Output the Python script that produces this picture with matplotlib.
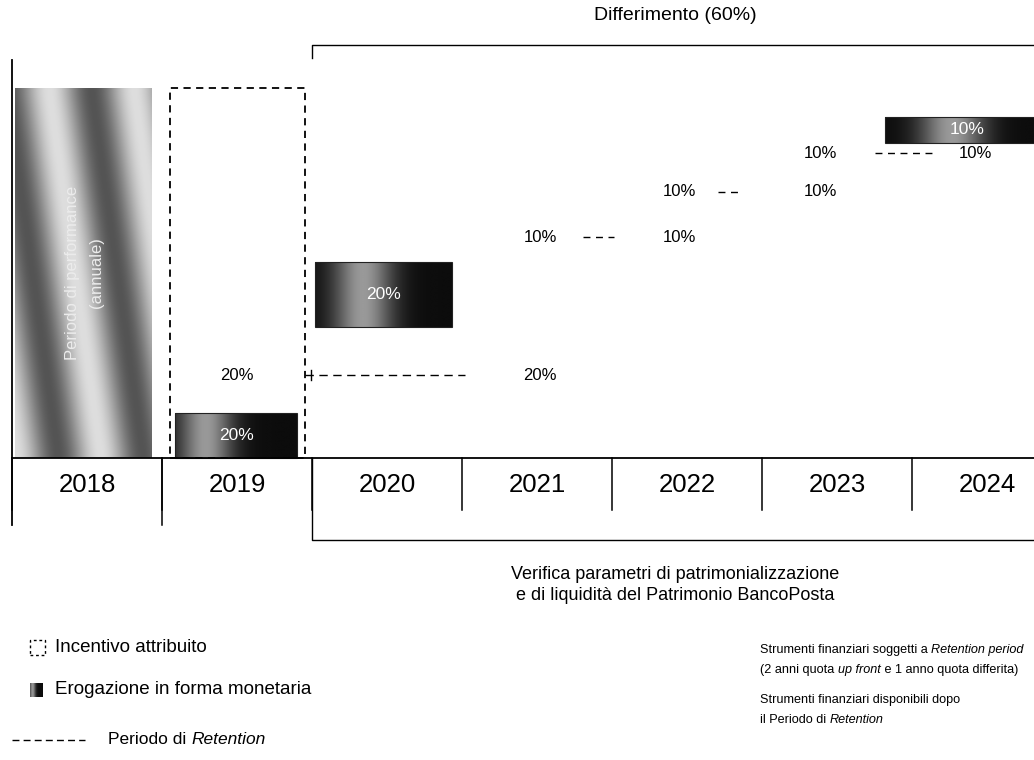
"""
Schema di pagamento dell'incentivo (MBO BancoPosta) - ricostruzione
"""

import matplotlib.pyplot as plt
import numpy as np
from matplotlib.patches import Rectangle


# data
years = [2018, 2019, 2020, 2021, 2022, 2023, 2024]
cash_years = [2019, 2020, 2024]
cash_pct = [20, 20, 10]
ret_from = [2019, 2021, 2022, 2023]
ret_to = [2021, 2022, 2023, 2024]
ret_pct = [20, 10, 10, 10]
deferral_label = "Differimento (60%)"
check_label = "Verifica parametri di patrimonializzazione\ne di liquidità del Patrimonio BancoPosta"

plt.rcParams["font.family"] = ["Liberation Sans", "DejaVu Sans"]

fig = plt.figure(figsize=(10.34, 7.6), dpi=100)
ax = fig.add_axes([0, 0, 1, 1])
# x: one unit per year column, y: drawing units above the year row
ax.set_xlim(-0.08, 6.813)
ax.set_ylim(-302, 458)
ax.set_axis_off()


def col(year):
    return years.index(year)


def shade(x0, x1, y0, y1, kind):
    nx, ny = 120, 40
    xx, yy = np.meshgrid(np.linspace(0, 1, nx), np.linspace(0, 1, ny))
    if kind == "stripe":
        z = 0.6 + 0.27 * np.cos(2 * np.pi * (xx * 1.6 + yy * 0.6))
    else:
        z = 0.05 + 0.55 * np.exp(-((xx - kind) / 0.22) ** 2)
    ax.imshow(z, extent=(x0, x1, y0, y1), origin="lower", cmap="gray",
              vmin=0, vmax=1, aspect="auto", interpolation="bicubic", zorder=1)


# 2018: performance period bar
shade(0.02, 0.93, 0, 370, "stripe")
ax.text(0.4, 185, "Periodo di performance", rotation=90, ha="center", va="center",
        color="#ececec", fontsize=12, zorder=3)
ax.text(0.56, 185, "(annuale)", rotation=90, ha="center", va="center",
        color="#ececec", fontsize=12, zorder=3)

# 2019: awarded incentive (dashed box)
ax.add_patch(Rectangle((1.053, 0), 0.9, 370, fill=False, ls=(0, (4, 3)), lw=1.3,
                       ec="black", zorder=2))

# cash payments
cash_boxes = {2019: (1.087, 1.9, 0, 45, 0.25), 2020: (2.02, 2.93, 131, 196, 0.35),
              2024: (5.82, 6.813, 315, 341, 0.45)}
for yr, pct in zip(cash_years, cash_pct):
    x0, x1, y0, y1, hl = cash_boxes[yr]
    shade(x0, x1, y0, y1, hl)
    ax.add_patch(Rectangle((x0, y0), x1 - x0, y1 - y0, fill=False, ec="#222222", lw=0.8, zorder=2))
    ax.text((x0 + x1) / 2 + (0.05 if yr == 2024 else 0), (y0 + y1) / 2, f"{pct}%",
            ha="center", va="center", color="white", fontsize=12.5, zorder=3)

# retention steps: text offsets inside the columns and dash extents
row_y = [83, 221, 266, 305]
text_off = {2019: 0.5, 2021: 0.52, 2022: 0.45, 2023: 0.39, 2024: 0.42}
dash_span = [(1.953, 3.02), (3.807, 4.013), (4.707, 4.867), (5.753, 6.153)]
dash_style = [(0, (6, 4)), (0, (5, 4)), (0, (5, 4)), (0, (5, 4))]
for i, (a, b, pct, yv) in enumerate(zip(ret_from, ret_to, ret_pct, row_y)):
    xa = col(a) + text_off[a] if i > 0 else col(a) + 0.5
    xb = col(b) + text_off[b] if i > 0 else col(b) + 0.52
    if i == 2:
        xa = col(a) + 0.45
    ax.text(xa, yv, f"{pct}%", ha="center", va="center", fontsize=12)
    ax.text(xb, yv, f"{pct}%", ha="center", va="center", fontsize=12)
    d0, d1 = dash_span[i]
    ax.plot([d0, d1], [yv, yv], color="black", lw=1, ls=dash_style[i])
    if i == 0:
        ax.plot([1.99, 1.99], [yv - 5, yv + 5], color="black", lw=1)

# year row
ax.plot([0, 6.813], [0, 0], color="black", lw=1.3)
for i, yr in enumerate(years):
    ax.plot([i, i], [0, -52], color="black", lw=1.1)
    ax.text(i + 0.5, -27, str(yr), ha="center", va="center", fontsize=18.5)
ax.plot([0, 0], [398, -67], color="black", lw=1.3)
ax.plot([1, 1], [0, -67], color="black", lw=1.1)

# deferral bracket (top)
ax.plot([2, 2, 6.813], [400, 413, 413], color="black", lw=1)
ax.text(4.42, 443, deferral_label, ha="center", va="center", fontsize=14)

# capital check bracket (bottom)
ax.plot([2, 2, 6.813], [0, -82, -82], color="black", lw=1)
ax.text(4.42, -127, check_label, ha="center", va="center", fontsize=13, linespacing=1.25)


def rich(x, y, parts, size=12.5):
    prev = None
    for txt, style in parts:
        if prev is None:
            prev = ax.text(x, y, txt, ha="left", va="center", fontsize=size, style=style)
        else:
            prev = ax.annotate(txt, xy=(1, 0), xycoords=prev, ha="left", va="bottom",
                               fontsize=size, style=style)


# legend (left)
ax.add_patch(Rectangle((0.12, -197), 0.1, 15, fill=False, ls=(0, (2, 2)), lw=1, ec="black"))
rich(0.287, -190, [("Incentivo attribuito", "normal")], 13.5)
shade(0.12, 0.2, -239, -225, 0.2)
rich(0.287, -232, [("Erogazione in forma monetaria", "normal")], 13.5)
ax.plot([0, 0.487], [-282, -282], color="black", lw=1, ls=(0, (5, 3)))
rich(0.64, -282, [("Periodo di ", "normal"), ("Retention", "italic")], 12.5)

# legend (right)
rs = 9.1
rich(4.987, -192, [("Strumenti finanziari soggetti a ", "normal"), ("Retention period", "italic")], rs)
rich(4.987, -212, [("(2 anni quota ", "normal"), ("up front", "italic"),
                   (" e 1 anno quota differita)", "normal")], rs)
rich(4.987, -242, [("Strumenti finanziari disponibili dopo", "normal")], rs)
rich(4.987, -262, [("il Periodo di ", "normal"), ("Retention", "italic")], rs)

plt.savefig("out.png", dpi=100)
